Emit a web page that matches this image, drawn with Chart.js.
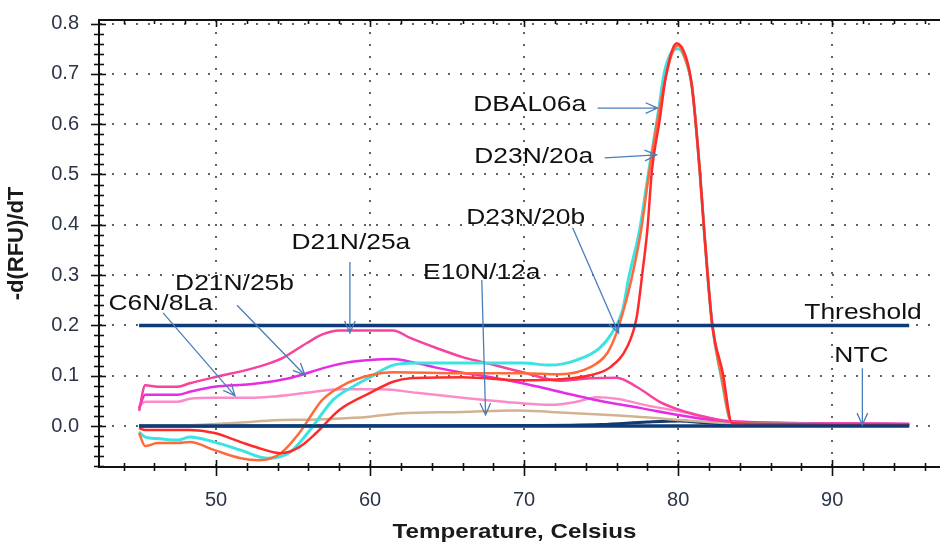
<!DOCTYPE html>
<html>
<head>
<meta charset="utf-8">
<script src="https://cdn.jsdelivr.net/npm/chart.js@4.4.0/dist/chart.umd.min.js"></script>
<style>
  html, body { margin: 0; padding: 0; background: #fff; }
  #wrap { width: 940px; height: 542px; }
</style>
</head>
<body>
<div id="wrap"><canvas id="meltChart" width="940" height="542"></canvas></div>
<script>
// melt curve data
const dbalT = [45, 45.4, 46.2, 47.5, 48.3, 49.9, 51.6, 53.3, 54.8, 56.1, 57.6, 59.1, 60, 61.5, 63, 66, 69.9, 71.7, 73.4, 74.9, 75.7, 76.4, 76.8, 77.5, 78.1, 78.7, 79.1, 79.6, 80, 80.4, 80.9, 81.4, 81.7, 82.2, 82.8, 83.5, 86, 90, 95];
const dbalV = [-0.012, -0.022, -0.025, -0.028, -0.022, -0.032, -0.048, -0.064, -0.052, -0.008, 0.052, 0.082, 0.097, 0.121, 0.125, 0.125, 0.125, 0.121, 0.131, 0.155, 0.185, 0.231, 0.296, 0.39, 0.509, 0.622, 0.702, 0.744, 0.75, 0.734, 0.674, 0.509, 0.384, 0.205, 0.097, 0.006, 0.004, 0.003, 0.003];

const d20aT = [45, 45.4, 46.2, 47.5, 48.3, 49.9, 51.6, 52.8, 54.2, 55.4, 56.9, 58.5, 60, 61.5, 66, 69.9, 72.3, 74.3, 75.4, 76, 76.5, 77, 77.6, 78.1, 78.7, 79.2, 79.6, 80, 80.4, 80.9, 81.4, 81.7, 82.2, 82.8, 83.5, 86, 90, 95];
const d20aV = [-0.014, -0.04, -0.034, -0.034, -0.032, -0.048, -0.064, -0.068, -0.054, -0.014, 0.052, 0.085, 0.101, 0.107, 0.105, 0.105, 0.103, 0.117, 0.145, 0.185, 0.235, 0.296, 0.39, 0.5, 0.615, 0.695, 0.74, 0.757, 0.735, 0.674, 0.509, 0.384, 0.205, 0.1, 0.006, 0.004, 0.003, 0.003];

const d20bT = [45, 45.4, 48.3, 49.9, 51.6, 53, 54.2, 55.4, 56.5, 58, 60, 61.5, 62.6, 66, 69.9, 72.3, 74.3, 75.6, 76.7, 77.3, 77.7, 78, 78.3, 78.8, 79.2, 79.9, 80.5, 80.9, 81.4, 81.7, 82.2, 82.9, 83.5, 86, 90, 95];
const d20bV = [-0.004, -0.008, -0.008, -0.014, -0.032, -0.046, -0.054, -0.042, -0.014, 0.032, 0.066, 0.088, 0.095, 0.097, 0.091, 0.093, 0.101, 0.117, 0.158, 0.215, 0.31, 0.39, 0.509, 0.608, 0.694, 0.761, 0.734, 0.674, 0.509, 0.384, 0.205, 0.105, 0.006, 0.004, 0.003, 0.003];

const d25aT = [45, 45.4, 46.2, 47.5, 48.3, 49.9, 52.2, 53.5, 54.3, 55.9, 56.9, 58, 60, 61.5, 62.6, 64.3, 66, 67.3, 69.9, 72.3, 74.3, 76, 77.3, 78.8, 80.1, 81.8, 83.5, 86.6, 90, 95];
const d25aV = [0.03, 0.081, 0.078, 0.078, 0.085, 0.097, 0.113, 0.125, 0.135, 0.165, 0.182, 0.19, 0.19, 0.19, 0.175, 0.155, 0.137, 0.127, 0.107, 0.09, 0.095, 0.096, 0.078, 0.048, 0.032, 0.018, 0.008, 0.006, 0.005, 0.004];

const d25bT = [45, 45.4, 47.5, 48.3, 49.9, 52.2, 53.5, 55, 57.2, 58.7, 60, 61.5, 63, 64.3, 66, 67.3, 69.9, 72.3, 74.9, 77.5, 80, 82.2, 84.6, 90, 95];
const d25bV = [0.035, 0.062, 0.062, 0.068, 0.078, 0.083, 0.088, 0.097, 0.117, 0.127, 0.131, 0.133, 0.125, 0.116, 0.106, 0.1, 0.085, 0.068, 0.05, 0.036, 0.022, 0.012, 0.008, 0.005, 0.004];

const c6nT = [45, 45.4, 47.5, 48.3, 49.9, 52.2, 53.5, 55.9, 58, 60.8, 63, 66, 67.3, 69.5, 71.7, 73.4, 74.7, 76, 78.1, 80.3, 82, 84, 90, 95];
const c6nV = [0.04, 0.048, 0.048, 0.054, 0.056, 0.056, 0.058, 0.066, 0.073, 0.073, 0.066, 0.056, 0.052, 0.046, 0.042, 0.048, 0.057, 0.054, 0.04, 0.028, 0.016, 0.008, 0.005, 0.004];

const e10nT = [45, 48, 50, 52.2, 53.5, 56.5, 58.7, 59.8, 61.9, 66, 69.5, 71.7, 74.9, 78.1, 80, 83, 86, 95];
const e10nV = [0, 0.001, 0.004, 0.008, 0.011, 0.013, 0.016, 0.018, 0.025, 0.028, 0.031, 0.028, 0.023, 0.017, 0.012, 0.006, 0.004, 0.003];

const ntcT = [45, 70, 75, 78, 80, 82, 84, 95];
const ntcV = [0, 0.001, 0.003, 0.008, 0.01, 0.006, 0.002, 0.001];

const lineT = [45, 95];
const thresholdV = [0.2, 0.2];
const baselineV = [0, 0];

// tick values
const xTicks = [44, 46, 48, 50, 52, 54, 56, 58, 60, 62, 64, 66, 68, 70, 72, 74, 76, 78, 80, 82, 84, 86, 88, 90, 92, 94, 96];
const yTicks = [];
for (let i = -4; i <= 40; i++) yTicks.push(i / 50);

// callout labels (in data units)
const notes = [
    { text: 'DBAL06a', at: [70.36, 0.638], from: [74.77, 0.632], to: [78.66, 0.632] },
    { text: 'D23N/20a', at: [70.62, 0.535], from: [75.23, 0.533], to: [78.6, 0.539] },
    { text: 'D23N/20b', at: [70.1, 0.414], from: [73.15, 0.394], to: [76.13, 0.185] },
    { text: 'D21N/25a', at: [58.75, 0.364], from: [58.69, 0.326], to: [58.69, 0.185] },
    { text: 'D21N/25b', at: [51.2, 0.282], from: [51.36, 0.24], to: [55.77, 0.101] },
    { text: 'C6N/8La', at: [46.4, 0.243], from: [46.56, 0.225], to: [51.23, 0.06] },
    { text: 'E10N/12a', at: [67.25, 0.304], from: [67.25, 0.29], to: [67.5, 0.022] },
    { text: 'Threshold', at: [92.0, 0.225] },
    { text: 'NTC', at: [91.9, 0.139], from: [91.96, 0.115], to: [91.96, 0.002] }
];

const FONT = '"Liberation Sans", Arial, sans-serif';

function pts(ts, vs) {
    return ts.map(function(t, i) { return { x: t, y: vs[i] }; });
}

function isMajor(v, step) {
    const r = v / step;
    return Math.abs(r - Math.round(r)) < 1e-6;
}

function curve(label, ts, vs, color, width, order) {
    return {
        label: label,
        data: pts(ts, vs),
        borderColor: color,
        backgroundColor: color,
        borderWidth: width,
        pointRadius: 0,
        cubicInterpolationMode: 'monotone',
        order: order
    };
}

const datasets = [
    curve('Baseline', lineT, baselineV, '#0f3c78', 3.5, 0),
    curve('Threshold', lineT, thresholdV, '#0f3c78', 3.5, 1),
    curve('D23N/20b', d20bT, d20bV, '#ff2b2b', 2.5, 2),
    curve('D23N/20a', d20aT, d20aV, '#ff6a3a', 2.5, 3),
    curve('DBAL06a', dbalT, dbalV, '#3de3e3', 3, 4),
    curve('D21N/25a', d25aT, d25aV, '#f5439f', 2.5, 5),
    curve('D21N/25b', d25bT, d25bV, '#e42de4', 2.5, 6),
    curve('C6N/8La', c6nT, c6nV, '#fb8cc8', 2.5, 7),
    curve('E10N/12a', e10nT, e10nV, '#d2b390', 2.5, 8),
    curve('NTC', ntcT, ntcV, '#123a6e', 3, 9)
];

function stretchedText(ctx, text, x, y, sx) {
    ctx.save();
    ctx.translate(x, y);
    ctx.scale(sx, 1);
    ctx.fillText(text, 0, 0);
    ctx.restore();
}

// axis frame, tick marks, x title and callouts
const decorPlugin = {
    id: 'decor',
    afterDraw: function(chart) {
        const ctx = chart.ctx;
        const area = chart.chartArea;
        const xs = chart.scales.x;
        const ys = chart.scales.y;

        ctx.save();
        ctx.strokeStyle = '#111';
        ctx.lineWidth = 2;
        ctx.beginPath();
        ctx.moveTo(area.left - 1, area.top);
        ctx.lineTo(area.right, area.top);
        ctx.stroke();

        ctx.lineWidth = 1.6;
        xTicks.forEach(function(t) {
            const px = Math.round(xs.getPixelForValue(t)) + 0.5;
            const big = isMajor(t, 10);
            ctx.beginPath();
            ctx.moveTo(px, area.bottom - (big ? 7 : 4));
            ctx.lineTo(px, area.bottom + (big ? 9 : 4));
            ctx.moveTo(px, area.top);
            ctx.lineTo(px, area.top + (big ? 7 : 4));
            ctx.stroke();
        });
        yTicks.forEach(function(v) {
            const py = Math.round(ys.getPixelForValue(v)) + 0.5;
            const big = isMajor(v, 0.1);
            ctx.beginPath();
            ctx.moveTo(area.left - (big ? 8 : 5), py);
            ctx.lineTo(area.left + (big ? 7 : 5), py);
            ctx.stroke();
        });

        // x axis title
        ctx.fillStyle = '#1a1a1a';
        ctx.textAlign = 'center';
        ctx.textBaseline = 'middle';
        ctx.font = 'bold 21px ' + FONT;
        stretchedText(ctx, 'Temperature, Celsius', (area.left + area.right) / 2 - 5, 532, 1.15);

        // callouts
        ctx.font = '22px ' + FONT;
        notes.forEach(function(n) {
            ctx.fillStyle = '#111';
            stretchedText(ctx, n.text, xs.getPixelForValue(n.at[0]), ys.getPixelForValue(n.at[1]), 1.2);
            if (!n.from) return;
            const x1 = xs.getPixelForValue(n.from[0]);
            const y1 = ys.getPixelForValue(n.from[1]);
            const x2 = xs.getPixelForValue(n.to[0]);
            const y2 = ys.getPixelForValue(n.to[1]);
            const ang = Math.atan2(y2 - y1, x2 - x1);
            const head = 13;
            ctx.strokeStyle = '#4a7ebb';
            ctx.lineWidth = 1.3;
            ctx.beginPath();
            ctx.moveTo(x1, y1);
            ctx.lineTo(x2, y2);
            ctx.moveTo(x2 - head * Math.cos(ang - 0.42), y2 - head * Math.sin(ang - 0.42));
            ctx.lineTo(x2, y2);
            ctx.lineTo(x2 - head * Math.cos(ang + 0.42), y2 - head * Math.sin(ang + 0.42));
            ctx.stroke();
        });
        ctx.restore();
    }
};

const gridColor = 'rgba(70, 70, 70, 0.85)';

function noPad(scale) {
    scale.paddingTop = 0;
    scale.paddingBottom = 0;
    scale.paddingLeft = 0;
    scale.paddingRight = 0;
}

new Chart(document.getElementById('meltChart').getContext('2d'), {
    type: 'line',
    data: { datasets: datasets },
    options: {
        responsive: false,
        animation: false,
        events: [],
        layout: { autoPadding: false, padding: { top: 20, right: 0, bottom: 0, left: 0 } },
        plugins: {
            legend: { display: false },
            tooltip: { enabled: false }
        },
        scales: {
            x: {
                type: 'linear',
                min: 42.4,
                max: 97,
                afterFit: function(scale) { scale.height = 75; noPad(scale); },
                afterBuildTicks: function(scale) {
                    scale.ticks = xTicks.map(function(t) { return { value: t }; });
                },
                grid: {
                    drawTicks: false,
                    lineWidth: 2,
                    color: function(c) {
                        return c.tick && isMajor(c.tick.value, 10) ? gridColor : 'rgba(0,0,0,0)';
                    }
                },
                border: { display: true, color: '#111', width: 2, dash: [2, 10] },
                ticks: {
                    autoSkip: false,
                    maxRotation: 0,
                    padding: 21,
                    color: '#2a3548',
                    font: { family: FONT, size: 20 },
                    callback: function(v) { return isMajor(v, 10) ? String(v) : ''; }
                }
            },
            y: {
                min: -0.0815,
                max: 0.807,
                afterFit: function(scale) { scale.width = 99; noPad(scale); },
                afterBuildTicks: function(scale) {
                    scale.ticks = yTicks.map(function(v) { return { value: v }; });
                },
                grid: {
                    drawTicks: false,
                    lineWidth: 2,
                    color: function(c) {
                        return c.tick && isMajor(c.tick.value, 0.1) ? gridColor : 'rgba(0,0,0,0)';
                    }
                },
                border: { display: true, color: '#111', width: 2, dash: [2, 10] },
                ticks: {
                    autoSkip: false,
                    padding: 20,
                    color: '#2a3548',
                    font: { family: FONT, size: 20 },
                    callback: function(v) { return isMajor(v, 0.1) ? v.toFixed(1) : ''; }
                },
                title: {
                    display: true,
                    text: '-d(RFU)/dT',
                    color: '#1a1a1a',
                    padding: { top: 4, bottom: 0 },
                    font: { family: FONT, size: 22, weight: 'bold' }
                }
            }
        }
    },
    plugins: [decorPlugin]
});
</script>
</body>
</html>
